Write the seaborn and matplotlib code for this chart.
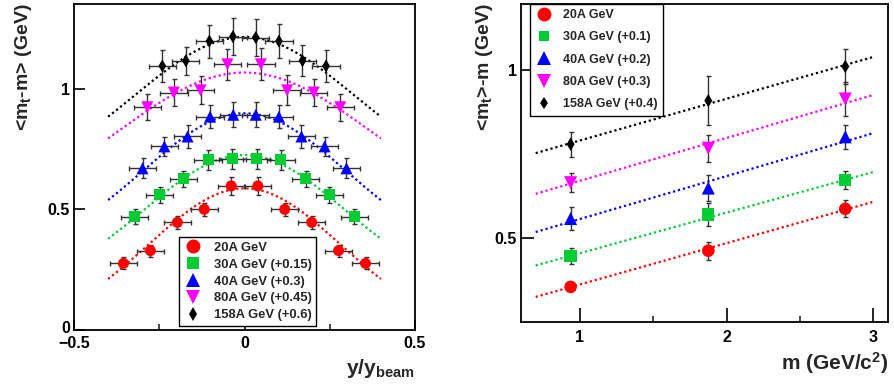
import numpy as np
import pandas as pd
import matplotlib
matplotlib.use("Agg")
import matplotlib.pyplot as plt
import matplotlib.transforms as mtransforms
import seaborn as sns
from matplotlib.lines import Line2D

# ---------------- data ----------------
energy_labels = ["20A GeV", "30A GeV", "40A GeV", "80A GeV", "158A GeV"]
series_colors = ["#ff0000", "#00cc33", "#0000ff", "#ff00ff", "#000000"]
series_markers = ["o", "s", "^", "v", "d"]

# Left panel: <mt-m> vs y/y_beam (values before the plotting offset)
rap_offset = [0.0, 0.15, 0.3, 0.45, 0.6]
rap_offset_text = ["", " (+0.15)", " (+0.3)", " (+0.45)", " (+0.6)"]

rap_x20 = [-0.355, -0.276, -0.197, -0.118, -0.039, 0.039, 0.118, 0.197, 0.276, 0.355]
rap_y20 = [0.276, 0.329, 0.446, 0.500, 0.597, 0.597, 0.500, 0.446, 0.329, 0.276]
rap_e20 = [0.025, 0.025, 0.026, 0.028, 0.037, 0.037, 0.028, 0.026, 0.025, 0.025]

rap_x30 = [-0.322, -0.249, -0.179, -0.107, -0.036, 0.036, 0.107, 0.179, 0.249, 0.322]
rap_y30 = [0.320, 0.410, 0.476, 0.555, 0.559, 0.559, 0.555, 0.476, 0.410, 0.320]
rap_e30 = [0.032, 0.033, 0.033, 0.041, 0.043, 0.043, 0.041, 0.033, 0.033, 0.032]

rap_x40 = [-0.299, -0.235, -0.167, -0.101, -0.033, 0.033, 0.101, 0.167, 0.235, 0.299]
rap_y40 = [0.370, 0.461, 0.502, 0.584, 0.592, 0.592, 0.584, 0.502, 0.461, 0.370]
rap_e40 = [0.041, 0.038, 0.048, 0.048, 0.051, 0.051, 0.048, 0.048, 0.038, 0.041]

rap_x80 = [-0.285, -0.207, -0.129, -0.050, 0.048, 0.125, 0.203, 0.281]
rap_y80 = [0.473, 0.534, 0.543, 0.651, 0.651, 0.543, 0.534, 0.473]
rap_e80 = [0.053, 0.057, 0.058, 0.065, 0.066, 0.062, 0.057, 0.055]

rap_x158 = [-0.241, -0.172, -0.103, -0.034, 0.033, 0.101, 0.170, 0.239]
rap_y158 = [0.494, 0.516, 0.597, 0.616, 0.612, 0.597, 0.516, 0.494]
rap_e158 = [0.066, 0.058, 0.068, 0.075, 0.075, 0.070, 0.065, 0.065]

rap_xerr = [0.04, 0.04, 0.04, 0.04, 0.04]

# Gaussian fits drawn as dotted curves
rap_fit_amp = [0.587, 0.575, 0.598, 0.617, 0.614]
rap_fit_sigma = [0.280, 0.294, 0.295, 0.370, 0.322]
rap_fit_range = [-0.4, 0.4]

# Right panel: <mt>-m vs particle mass
mass = [0.938, 1.876, 2.809]
mass_offset = [0.0, 0.1, 0.2, 0.3, 0.4]
mass_offset_text = ["", " (+0.1)", " (+0.2)", " (+0.3)", " (+0.4)"]
mass_y20 = [0.354, 0.462, 0.587]
mass_e20 = [0.012, 0.027, 0.025]
mass_y30 = [0.347, 0.470, 0.574]
mass_e30 = [0.024, 0.034, 0.027]
mass_y40 = [0.358, 0.449, 0.602]
mass_e40 = [0.034, 0.040, 0.036]
mass_y80 = [0.365, 0.468, 0.615]
mass_e80 = [0.029, 0.040, 0.052]
mass_y158 = [0.380, 0.510, 0.612]
mass_e158 = [0.037, 0.073, 0.053]

mass_fit_intercept = [0.2375, 0.233, 0.228, 0.242, 0.266]
mass_fit_slope = [0.1235, 0.1213, 0.1283, 0.1283, 0.1248]
mass_fit_range = [0.7, 3.0]

# ---------------- style ----------------
sns.set_theme(style="white")
plt.rcParams["font.family"] = ["Liberation Sans", "DejaVu Sans"]
plt.rcParams["font.weight"] = "bold"
plt.rcParams["mathtext.fontset"] = "custom"
plt.rcParams["mathtext.rm"] = "Liberation Sans:bold"
plt.rcParams["mathtext.it"] = "Liberation Sans:bold"
plt.rcParams["mathtext.bf"] = "Liberation Sans:bold"
plt.rcParams["axes.unicode_minus"] = True

pal = dict(zip(energy_labels, series_colors))
mk = dict(zip(energy_labels, series_markers))
sizes_left = dict(zip(energy_labels, [63, 63, 75, 75, 44]))
sizes_right = dict(zip(energy_labels, [82, 78, 88, 88, 46]))
dotted = (0, (1, 1.3))

fig = plt.figure(figsize=(8.94, 3.84), dpi=100)
fig.patch.set_facecolor("white")
ax1 = fig.add_axes([74 / 894, 54 / 384, 341 / 894, 326.5 / 384])
ax2 = fig.add_axes([521 / 894, 62.3 / 384, 367 / 894, 318.2 / 384])

# ---- left panel ----
rap_x = [rap_x20, rap_x30, rap_x40, rap_x80, rap_x158]
rap_y = [rap_y20, rap_y30, rap_y40, rap_y80, rap_y158]
rap_e = [rap_e20, rap_e30, rap_e40, rap_e80, rap_e158]
rows = []
for i, lab in enumerate(energy_labels):
    for x, y, e in zip(rap_x[i], rap_y[i], rap_e[i]):
        rows.append({"energy": lab, "x": x, "y": y + rap_offset[i], "yerr": e, "xerr": rap_xerr[i]})
df_rap = pd.DataFrame(rows)

for i, lab in enumerate(energy_labels):
    xs = np.linspace(rap_fit_range[0], rap_fit_range[1], 200)
    ys = rap_fit_amp[i] * np.exp(-xs ** 2 / (2 * rap_fit_sigma[i] ** 2)) + rap_offset[i]
    sns.lineplot(x=xs, y=ys, color=series_colors[i], linestyle=dotted, lw=1.6,
                 estimator=None, errorbar=None, ax=ax1, zorder=2)

ax1.errorbar(df_rap["x"], df_rap["y"], xerr=df_rap["xerr"], yerr=df_rap["yerr"], fmt="none",
             ecolor="#333333", elinewidth=1.0, capsize=1.8, capthick=1.0, zorder=3)
sns.scatterplot(data=df_rap, x="x", y="y", hue="energy", style="energy", size="energy",
                palette=pal, markers=mk, sizes=sizes_left, linewidth=0, legend=False,
                ax=ax1, zorder=4)

ax1.set_xlim(-0.5, 0.5)
ax1.set_ylim(0, 1.353)
ax1.set_xticks([-0.5, 0, 0.5])
ax1.set_xticklabels(["\u22120.5", "0", "0.5"])
ax1.set_xticks([-0.25, 0.25], minor=True)
ax1.set_yticks([0, 0.5, 1])
ax1.set_yticklabels(["0", "0.5", "1"])
ax1.set_xlabel(r"y/y$_{beam}$", fontsize=15, fontweight="bold", loc="right", labelpad=4)
ax1.set_ylabel(r"<m$_{t}$-m> (GeV)", fontsize=14, fontweight="bold", loc="top")
ax1.yaxis.set_label_coords(-0.118, 1.0)

leg_handles1 = [Line2D([0], [0], ls="", marker=series_markers[i], color=series_colors[i],
                       markeredgewidth=0, markersize=[10, 8.5, 9.5, 9.5, 6.8][i])
                for i in range(5)]
leg1 = ax1.legend(leg_handles1, [energy_labels[i] + rap_offset_text[i] for i in range(5)],
                  loc="lower left", bbox_to_anchor=(0.308, 0.013), borderaxespad=0,
                  frameon=True, fancybox=False, edgecolor="black", framealpha=1,
                  prop={"weight": "bold", "size": 9.4}, handlelength=1.4, handletextpad=0.9,
                  labelspacing=0.36, borderpad=0.35)
leg1.get_frame().set_linewidth(1.0)

# ---- right panel ----
mass_y = [mass_y20, mass_y30, mass_y40, mass_y80, mass_y158]
mass_e = [mass_e20, mass_e30, mass_e40, mass_e80, mass_e158]
rows = []
for i, lab in enumerate(energy_labels):
    for x, y, e in zip(mass, mass_y[i], mass_e[i]):
        rows.append({"energy": lab, "m": x, "y": y + mass_offset[i], "yerr": e})
df_mass = pd.DataFrame(rows)

for i, lab in enumerate(energy_labels):
    xs = np.linspace(mass_fit_range[0], mass_fit_range[1], 50)
    ys = mass_fit_intercept[i] + mass_fit_slope[i] * xs + mass_offset[i]
    sns.lineplot(x=xs, y=ys, color=series_colors[i], linestyle=dotted, lw=1.6,
                 estimator=None, errorbar=None, ax=ax2, zorder=2)

ax2.errorbar(df_mass["m"], df_mass["y"], yerr=df_mass["yerr"], fmt="none",
             ecolor="#333333", elinewidth=1.0, capsize=1.8, capthick=1.0, zorder=3)
sns.scatterplot(data=df_mass, x="m", y="y", hue="energy", style="energy", size="energy",
                palette=pal, markers=mk, sizes=sizes_right, linewidth=0, legend=False,
                ax=ax2, zorder=4)

ax2.set_xlim(0.6, 3.1)
ax2.set_ylim(0.25, 1.2)
ax2.set_xticks([1, 2, 3])
ax2.set_xticklabels(["1", "2", "3"])
ax2.set_xticks([1.5, 2.5], minor=True)
ax2.set_yticks([0.5, 1])
ax2.set_yticklabels(["0.5", "1"])
ax2.set_xlabel(r"m (GeV/c$^{2}$)", fontsize=15, fontweight="bold", loc="right", labelpad=4)
ax2.set_ylabel(r"<m$_{t}$>-m (GeV)", fontsize=14, fontweight="bold", loc="top")
ax2.yaxis.set_label_coords(-0.072, 1.0)

leg_handles2 = [Line2D([0], [0], ls="", marker=series_markers[i], color=series_colors[i],
                       markeredgewidth=0, markersize=[10, 7, 10, 10, 6.2][i])
                for i in range(5)]
leg2 = ax2.legend(leg_handles2, [energy_labels[i] + mass_offset_text[i] for i in range(5)],
                  loc="upper left", bbox_to_anchor=(0.0245, 1.0), borderaxespad=0,
                  frameon=True, fancybox=False, edgecolor="black", framealpha=1,
                  prop={"weight": "bold", "size": 9.0}, handlelength=1.3, handletextpad=0.9,
                  labelspacing=0.82, borderpad=0.45)
leg2.get_frame().set_linewidth(1.0)

for ax in (ax1, ax2):
    ax.set_facecolor("white")
    for sp in ax.spines.values():
        sp.set_visible(True)
        sp.set_color("black")
        sp.set_linewidth(1.3)
    ax.tick_params(axis="both", which="major", direction="in", length=7, width=1.2,
                   labelsize=11.5, pad=3, color="black", labelcolor="black",
                   bottom=True, left=True, top=False, right=False)
    ax.tick_params(axis="both", which="minor", direction="in", length=4, width=1.2,
                   bottom=True, left=False, top=False, right=False)
    for t in ax.get_xticklabels() + ax.get_yticklabels():
        t.set_fontweight("bold")
ax2.tick_params(axis="x", which="major", length=10, pad=6)
ax2.tick_params(axis="y", which="major", length=9)
ax1.tick_params(axis="y", which="major", length=8)
ax1.tick_params(axis="x", which="major", pad=4.5)

# nudge the "0" y tick label up a little so it clears the x tick labels
zero_lab = ax1.get_yticklabels()[0]
zero_lab.set_transform(zero_lab.get_transform() +
                       mtransforms.ScaledTranslation(0, 2.5 / 72, fig.dpi_scale_trans))

fig.savefig("out.png", dpi=100, facecolor="white")
